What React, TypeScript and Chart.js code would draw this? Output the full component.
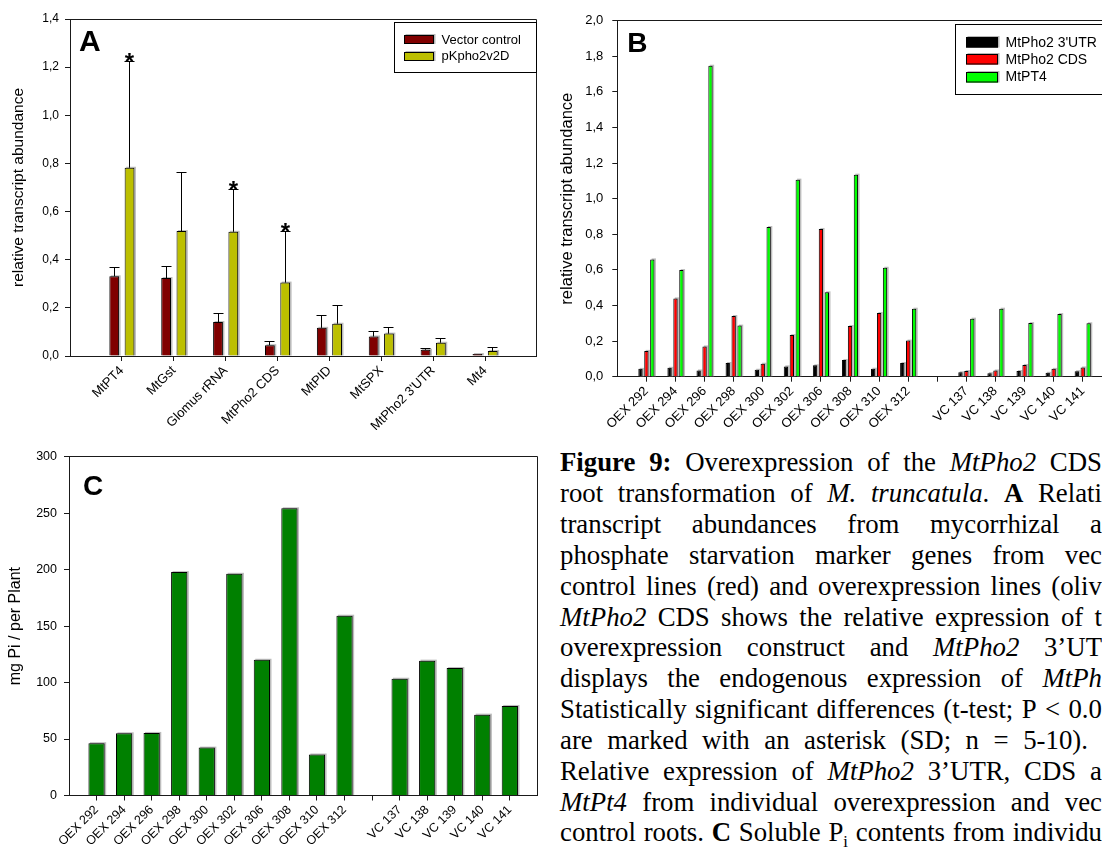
import React, { useEffect, useRef } from 'react';
import { Chart, registerables } from 'chart.js';

Chart.register(...registerables);

const FONT = "'Liberation Sans', Arial, Helvetica, sans-serif";
const SERIF = "'Liberation Serif', 'Times New Roman', Times, serif";
const AXIS = '#1a1a1a';

// ---------------- Panel A ----------------
const genes = ['MtPT4', 'MtGst', 'Glomus rRNA', 'MtPho2 CDS', 'MtPID', 'MtSPX', "MtPho2 3'UTR", 'Mt4'];
const vectorControl = [0.331, 0.324, 0.141, 0.045, 0.117, 0.081, 0.026, 0.008];
const vectorControlSD = [0.035, 0.046, 0.036, 0.014, 0.053, 0.022, 0.005, 0];
const pKpho2v2D = [0.782, 0.519, 0.516, 0.305, 0.134, 0.093, 0.055, 0.021];
const pKpho2v2DSD = [0.44, 0.244, 0.176, 0.214, 0.075, 0.025, 0.019, 0.016];
const significantA = [true, false, true, true, false, false, false, false];
const yTicksA = [0, 0.2, 0.4, 0.6, 0.8, 1.0, 1.2, 1.4];

// ---------------- Panel B ----------------
const rootLines = ['OEX 292', 'OEX 294', 'OEX 296', 'OEX 298', 'OEX 300', 'OEX 302', 'OEX 306', 'OEX 308', 'OEX 310', 'OEX 312', '', 'VC 137', 'VC 138', 'VC 139', 'VC 140', 'VC 141'];
const mtPho2UTR = [0.044, 0.05, 0.035, 0.077, 0.039, 0.058, 0.064, 0.094, 0.045, 0.077, null, 0.025, 0.02, 0.032, 0.022, 0.031];
const mtPho2CDS = [0.145, 0.44, 0.17, 0.341, 0.073, 0.234, 0.83, 0.285, 0.358, 0.203, null, 0.032, 0.035, 0.066, 0.044, 0.052];
const mtPT4 = [0.659, 0.599, 1.747, 0.287, 0.841, 1.107, 0.474, 1.135, 0.612, 0.382, null, 0.326, 0.382, 0.301, 0.352, 0.3];
const yTicksB = [0, 0.2, 0.4, 0.6, 0.8, 1.0, 1.2, 1.4, 1.6, 1.8, 2.0];

// ---------------- Panel C ----------------
const piPerPlant = [46.3, 55.1, 55.4, 197.8, 42.4, 196.3, 120.2, 254.3, 36.3, 159.2, null, 103.4, 119.4, 112.9, 71.6, 79.3];
const yTicksC = [0, 50, 100, 150, 200, 250, 300];

// ---------------- Caption ----------------
const captionLines = [
  '^Figure 9:^ Overexpression of the _MtPho2_ CDS',
  'root transformation of _M. truncatula_. ^A^ Relati',
  'transcript abundances from mycorrhizal a',
  'phosphate starvation marker genes from vec',
  'control lines (red) and overexpression lines (oliv',
  '_MtPho2_ CDS shows the relative expression of t',
  'overexpression construct and _MtPho2_ 3\u2019UT',
  'displays the endogenous expression of _MtPh_',
  'Statistically significant differences (t-test; P < 0.0',
  'are marked with an asterisk (SD; n = 5-10).',
  'Relative expression of _MtPho2_ 3\u2019UTR, CDS a',
  '_MtPt4_ from individual overexpression and vec',
  'control roots. ^C^ Soluble P~i~ contents from individu',
];

const pad = (arr: any[]) => [null, ...arr, null];
const padLabels = (arr: string[]) => ['', ...arr, ''];
const comma = (v: number) => Number(v).toFixed(1).replace('.', ',');
const alignPx = (p: number) => Math.round(p - 0.5) + 0.5;

const figurePlugin = {
  id: 'figure',
  beforeDatasetsDraw(chart: any, _a: any, o: any) {
    if (!o || !o.shadow) return;
    const ctx = chart.ctx;
    ctx.save();
    ctx.fillStyle = o.shadow.color;
    chart.data.datasets.forEach((ds: any, di: number) => {
      const meta = chart.getDatasetMeta(di);
      meta.data.forEach((el: any, i: number) => {
        if (ds.data[i] == null) return;
        const w = el.width;
        const top = Math.min(el.y, el.base);
        const bottom = Math.max(el.y, el.base);
        ctx.fillRect(el.x - w / 2 + o.shadow.dx, top + o.shadow.dy, w, bottom - top - o.shadow.dy);
      });
    });
    ctx.restore();
  },
  afterDatasetsDraw(chart: any, _a: any, o: any) {
    if (!o) return;
    const ctx = chart.ctx;
    const ys = chart.scales.y;
    ctx.save();
    (o.errors || []).forEach((eb: any) => {
      const ds = chart.data.datasets[eb.datasetIndex];
      const meta = chart.getDatasetMeta(eb.datasetIndex);
      meta.data.forEach((el: any, i: number) => {
        const v = ds.data[i];
        const e = eb.sd[i];
        if (v == null || e == null) return;
        const x = alignPx(el.x);
        const y1 = alignPx(ys.getPixelForValue(v + e));
        ctx.strokeStyle = '#000';
        ctx.lineWidth = 1;
        if (e > 0) {
          ctx.beginPath();
          ctx.moveTo(x, el.y);
          ctx.lineTo(x, y1);
          ctx.moveTo(x - eb.cap / 2, y1);
          ctx.lineTo(x + eb.cap / 2, y1);
          ctx.stroke();
        }
        if (eb.stars && eb.stars[i]) {
          ctx.fillStyle = '#000';
          ctx.font = `bold ${eb.starSize}px ${FONT}`;
          ctx.textAlign = 'center';
          ctx.textBaseline = 'alphabetic';
          ctx.fillText('*', x, y1 + eb.starOffset);
        }
      });
    });
    ctx.restore();
  },
  afterDraw(chart: any, _a: any, o: any) {
    if (!o) return;
    const ctx = chart.ctx;
    const { left, right, top, bottom } = chart.chartArea;
    ctx.save();
    ctx.strokeStyle = AXIS;
    ctx.lineWidth = 1;
    ctx.beginPath();
    ctx.moveTo(alignPx(left), alignPx(top));
    ctx.lineTo(alignPx(right), alignPx(top));
    ctx.lineTo(alignPx(right), alignPx(bottom));
    ctx.stroke();
    if (o.panel) {
      ctx.fillStyle = '#000';
      ctx.font = `bold ${o.panel.size}px ${FONT}`;
      ctx.textAlign = 'left';
      ctx.textBaseline = 'alphabetic';
      ctx.fillText(o.panel.text, left + o.panel.dx, top + o.panel.dy);
    }
    if (o.legend) {
      const L = o.legend;
      const bx = alignPx(right - L.w);
      const by = alignPx(top + L.dy);
      ctx.fillStyle = '#fff';
      ctx.fillRect(bx, by, L.w, L.h);
      ctx.strokeStyle = '#000';
      ctx.strokeRect(bx, by, alignPx(right) - bx, L.h);
      chart.data.datasets.forEach((ds: any, i: number) => {
        const cy = by + L.rows[i];
        const sx = Math.round(bx + L.swatchX);
        const sy = Math.round(cy - L.swatchH / 2);
        ctx.fillStyle = '#b8b8b8';
        ctx.fillRect(sx + 1.5, sy - 1, L.swatchW, L.swatchH + 1);
        ctx.fillStyle = ds.backgroundColor;
        ctx.fillRect(sx, sy, L.swatchW, L.swatchH);
        ctx.strokeStyle = '#000';
        ctx.strokeRect(sx + 0.5, sy + 0.5, L.swatchW - 1, L.swatchH - 1);
        ctx.fillStyle = '#000';
        ctx.font = `${L.size}px ${FONT}`;
        ctx.textAlign = 'left';
        ctx.textBaseline = 'middle';
        ctx.fillText(ds.label, bx + L.textX, cy + 0.5);
      });
    }
    ctx.restore();
  },
};

function xAxis(labels: string[], fontSize: number, height: number) {
  const n = labels.length;
  return {
    type: 'category',
    labels,
    offset: false,
    grid: {
      offset: false,
      drawOnChartArea: false,
      drawTicks: true,
      tickLength: 5,
      tickColor: (c: any) => (c.index === 0 || c.index === n - 1 ? 'rgba(0,0,0,0)' : AXIS),
    },
    border: { display: true, color: AXIS, width: 1 },
    ticks: { autoSkip: false, minRotation: 45, maxRotation: 45, padding: 2, color: '#000', font: { size: fontSize, family: FONT } },
    afterFit: (s: any) => { s.height = height; },
  };
}

function yAxis(ticksArr: number[], max: number, fmt: (v: number) => string, fontSize: number, padding: number, title: string, titleSize: number, titlePad: number, width: number) {
  return {
    min: 0,
    max,
    afterBuildTicks: (s: any) => { s.ticks = ticksArr.map((v) => ({ value: v })); },
    ticks: { callback: (v: any) => fmt(v), padding, color: '#000', font: { size: fontSize, family: FONT } },
    grid: { drawOnChartArea: false, drawTicks: true, tickLength: 5, tickColor: AXIS },
    border: { display: true, color: AXIS, width: 1 },
    title: { display: true, text: title, color: '#000', font: { size: titleSize, family: FONT }, padding: { top: titlePad, bottom: 0 } },
    afterFit: (s: any) => { s.width = width; },
  };
}

const baseOptions = (padding: any) => ({
  responsive: false,
  animation: false,
  devicePixelRatio: 1,
  layout: { padding },
  events: [],
});

function configA(): any {
  return {
    type: 'bar',
    data: {
      labels: padLabels(genes),
      datasets: [
        { label: 'Vector control', data: pad(vectorControl), backgroundColor: '#800000', borderColor: '#000', borderWidth: 1, categoryPercentage: 0.59, barPercentage: 0.64 },
        { label: 'pKpho2v2D', data: pad(pKpho2v2D), backgroundColor: '#bcbf00', borderColor: '#000', borderWidth: 1, categoryPercentage: 0.59, barPercentage: 0.64 },
      ],
    },
    options: {
      ...baseOptions({ top: 19, right: 12, left: 0, bottom: 0 }),
      scales: {
        x: xAxis(padLabels(genes), 13, 74),
        y: yAxis(yTicksA, 1.4, comma, 12, 6, 'relative transcript abundance', 15.5, 9.7, 70),
      },
      plugins: {
        legend: { display: false },
        tooltip: { enabled: false },
        figure: {
          shadow: { color: '#bdbdbd', dx: 1.5, dy: -1 },
          errors: [
            { datasetIndex: 0, sd: pad(vectorControlSD), cap: 10 },
            { datasetIndex: 1, sd: pad(pKpho2v2DSD), cap: 10, stars: pad(significantA), starSize: 24, starOffset: 8 },
          ],
          panel: { text: 'A', size: 30, dx: 9, dy: 32 },
          legend: { w: 142, h: 50, dy: 3, swatchX: 9, swatchW: 30, swatchH: 9, textX: 47, rows: [17, 33.5], size: 13 },
        },
      },
    },
    plugins: [figurePlugin],
  };
}

function configB(): any {
  const common = { borderColor: '#000', borderWidth: 1, categoryPercentage: 0.61, barPercentage: 0.73 };
  return {
    type: 'bar',
    data: {
      labels: padLabels(rootLines),
      datasets: [
        { label: "MtPho2 3'UTR", data: pad(mtPho2UTR), backgroundColor: '#000000', ...common },
        { label: 'MtPho2 CDS', data: pad(mtPho2CDS), backgroundColor: '#ff0000', ...common },
        { label: 'MtPT4', data: pad(mtPT4), backgroundColor: '#00ff00', ...common },
      ],
    },
    options: {
      ...baseOptions({ top: 20.7, right: 13.2, left: 0, bottom: 0 }),
      scales: {
        x: xAxis(padLabels(rootLines), 13, 53.3),
        y: yAxis(yTicksB, 2.0, comma, 13, 9, 'relative transcript abundance', 16.5, 7.5, 67.3),
      },
      plugins: {
        legend: { display: false },
        tooltip: { enabled: false },
        figure: {
          shadow: { color: '#bdbdbd', dx: 1.5, dy: -1 },
          panel: { text: 'B', size: 28, dx: 10, dy: 31 },
          legend: { w: 156.5, h: 70, dy: 3.3, swatchX: 10, swatchW: 32, swatchH: 10.5, textX: 50, rows: [18.2, 35.2, 52.5], size: 14 },
        },
      },
    },
    plugins: [figurePlugin],
  };
}

function configC(): any {
  return {
    type: 'bar',
    data: {
      labels: padLabels(rootLines),
      datasets: [
        { label: 'mg Pi / per Plant', data: pad(piPerPlant), backgroundColor: '#008000', borderColor: '#000', borderWidth: 1, categoryPercentage: 1, barPercentage: 0.59 },
      ],
    },
    options: {
      ...baseOptions({ top: 26.7, right: 8, left: 0, bottom: 0 }),
      scales: {
        x: xAxis(padLabels(rootLines), 12.5, 53.5),
        y: yAxis(yTicksC, 300, (v) => String(v), 12.5, 7, 'mg Pi / per Plant', 16, 5.7, 69),
      },
      plugins: {
        legend: { display: false },
        tooltip: { enabled: false },
        figure: {
          shadow: { color: '#bdbdbd', dx: 1.5, dy: -1 },
          panel: { text: 'C', size: 28, dx: 14, dy: 38.3 },
        },
      },
    },
    plugins: [figurePlugin],
  };
}

type Seg = { t: string; b: boolean; i: boolean; s: boolean };
function parseLine(line: string): Seg[][] {
  const words: Seg[][] = [];
  let cur: Seg[] = [];
  let b = false, it = false, s = false;
  let buf = '';
  const flush = () => { if (buf) { cur.push({ t: buf, b, i: it, s }); buf = ''; } };
  for (const ch of line) {
    if (ch === '^' || ch === '_' || ch === '~') {
      flush();
      if (ch === '^') b = !b; else if (ch === '_') it = !it; else s = !s;
    } else if (ch === ' ') {
      flush();
      if (cur.length) words.push(cur);
      cur = [];
    } else buf += ch;
  }
  flush();
  if (cur.length) words.push(cur);
  return words;
}

const CAPTION_LEFT = 560;
const CAPTION_TOP = 447.3;
const CAPTION_LH = 30.85;
const CAPTION_SIZE = 26.8;
const captionWidths = [542, 542, 542, 542, 542, 542, 542, 542, 542, 528, 542, 542, 542];

function Caption() {
  return (
    <div style={{ position: 'absolute', left: CAPTION_LEFT, top: CAPTION_TOP, fontFamily: SERIF, fontSize: CAPTION_SIZE, color: '#000' }}>
      {captionLines.map((line, li) => (
        <div key={li} style={{ display: 'flex', justifyContent: 'space-between', width: captionWidths[li], height: CAPTION_LH, lineHeight: `${CAPTION_LH}px`, whiteSpace: 'nowrap' }}>
          {parseLine(line).map((w, wi) => (
            <span key={wi} style={{ flexShrink: 0, marginRight: wi < parseLine(line).length - 1 ? '0.25em' : 0 }}>
              {w.map((sg, si) => {
                const st: any = { fontWeight: sg.b ? 'bold' : 'normal', fontStyle: sg.i ? 'italic' : 'normal' };
                if (sg.s) return <sub key={si} style={{ ...st, fontSize: '0.62em', lineHeight: 0 }}>{sg.t}</sub>;
                return <span key={si} style={st}>{sg.t}</span>;
              })}
            </span>
          ))}
        </div>
      ))}
    </div>
  );
}

export default function App() {
  const refA = useRef<HTMLCanvasElement>(null);
  const refB = useRef<HTMLCanvasElement>(null);
  const refC = useRef<HTMLCanvasElement>(null);
  useEffect(() => {
    Chart.defaults.font.family = FONT;
    const charts = [
      new Chart(refA.current as HTMLCanvasElement, configA()),
      new Chart(refB.current as HTMLCanvasElement, configB()),
      new Chart(refC.current as HTMLCanvasElement, configC()),
    ];
    return () => charts.forEach((c) => c.destroy());
  }, []);
  return (
    <div style={{ position: 'absolute', left: 0, top: 0, width: 1102, height: 849, overflow: 'hidden', background: '#fff' }}>
      <canvas ref={refA} width={550} height={430} style={{ position: 'absolute', left: 0, top: 0 }} />
      <canvas ref={refB} width={575} height={430} style={{ position: 'absolute', left: 550, top: 0 }} />
      <canvas ref={refC} width={550} height={419} style={{ position: 'absolute', left: 0, top: 430 }} />
      <Caption />
    </div>
  );
}
